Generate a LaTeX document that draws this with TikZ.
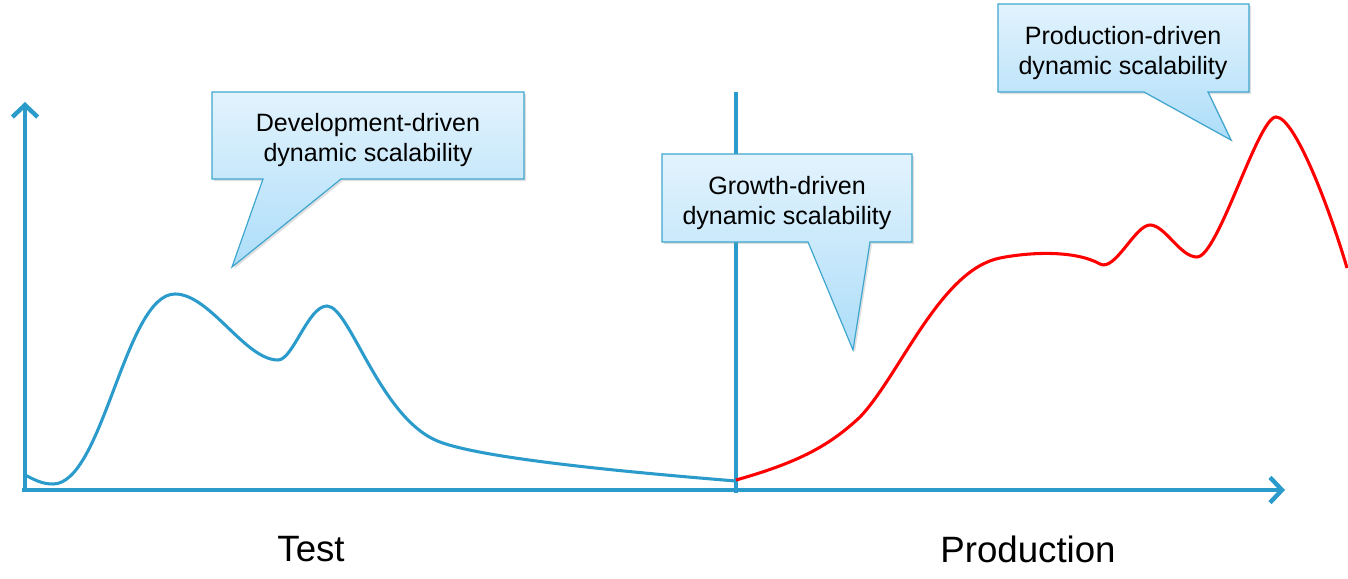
\documentclass[tikz,border=0pt]{standalone}
\usepackage{fontspec}
\setmainfont{Liberation Sans}
\usetikzlibrary{arrows.meta,shadows}
\definecolor{axisblue}{HTML}{2B9BCB}
\definecolor{calloutedge}{HTML}{3EA6CF}
\definecolor{callouttop}{HTML}{E2F3FD}
\definecolor{calloutbot}{HTML}{ADDDF9}
\tikzset{
  axis/.style={draw=axisblue, line width=3.3pt, -{Straight Barb[length=9pt,width=19pt,line width=3.3pt]}},
  divider/.style={draw=axisblue, line width=3.3pt},
  callout/.style={draw=calloutedge, line width=0.9pt, top color=callouttop, bottom color=calloutbot,
    drop shadow={shadow xshift=1.5pt, shadow yshift=-1.5pt, opacity=0.25}},
  callouttext/.style={align=center, font=\fontsize{18.8}{22.5}\selectfont, text=black, inner sep=0pt},
  phase/.style={font=\fontsize{27.5}{32}\selectfont, text=black, inner sep=0pt},
  testcurve/.style={draw=axisblue, line width=2.3pt},
  prodcurve/.style={draw=red, line width=2.3pt}
}
\begin{document}
\begin{tikzpicture}[x=0.75pt,y=-0.75pt]
\useasboundingbox (0,0) rectangle (1348,578);
% axes
\coordinate (origin) at (25,492);
\coordinate (ytop) at (25,102);
\coordinate (xend) at (1285,490);
\coordinate (xstart) at (22,490);
\coordinate (divtop) at (736,92);
\coordinate (divbot) at (736,493);
\draw[axis] (origin) -- (ytop);
\draw[axis] (xstart) -- (xend);
\draw[divider] (divtop) -- (divbot);
% curves
\draw[testcurve] (25,475) .. controls (35,480) and (42,484) .. (53,484)
  .. controls (103,484) and (125,294) .. (175,294)
  .. controls (210,294) and (245,360) .. (278,360)
  .. controls (293,360) and (308,306) .. (327,306)
  .. controls (350,306) and (380,420) .. (440,442)
  .. controls (480,457) and (600,470) .. (736,481);
\draw[prodcurve] (736,480) .. controls (800,462) and (830,445) .. (860,417)
  .. controls (900,375) and (940,270) .. (1000,258)
  .. controls (1030,252) and (1075,250) .. (1100,264)
  .. controls (1115,272) and (1135,225) .. (1150,225)
  .. controls (1165,225) and (1180,257) .. (1197,257)
  .. controls (1218,257) and (1258,117) .. (1276,117)
  .. controls (1295,117) and (1330,210) .. (1347,268);
% callouts
\path[callout] (212,92) -- (524,92) -- (524,179) -- (341,179) -- (232,267) -- (263,179) -- (212,179) -- cycle;
\node[callouttext] (dev) at (368,140) {Development-driven\\dynamic scalability};
\path[callout] (662,154) -- (912,154) -- (912,242) -- (870,242) -- (853,350) -- (808,242) -- (662,242) -- cycle;
\node[callouttext] (growth) at (787,203) {Growth-driven\\dynamic scalability};
\path[callout] (998,4) -- (1249,4) -- (1249,92) -- (1208,92) -- (1231,140) -- (1144,92) -- (998,92) -- cycle;
\node[callouttext] (prod) at (1123,53) {Production-driven\\dynamic scalability};
% labels
\node[phase] (test) at (311,549) {Test};
\node[phase] (production) at (1028,549) {Production};
\end{tikzpicture}
\end{document}
